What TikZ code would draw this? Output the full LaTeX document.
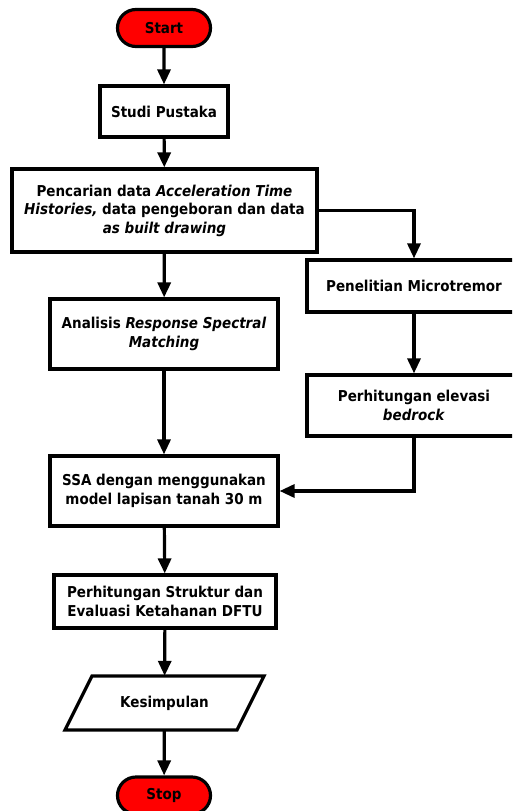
\documentclass[tikz,border=0pt]{standalone}
\usepackage{fontspec}
\setmainfont{DejaVu Sans Condensed}
\usetikzlibrary{arrows.meta,shapes.misc,positioning}
\begin{document}
\begin{tikzpicture}[x=1pt,y=-1pt,
  every node/.style={font=\bfseries\fontsize{15}{18.5}\selectfont, align=center, inner sep=0pt},
  box/.style={draw, line width=3.2pt, rectangle, fill=white},
  term/.style={draw, line width=3.2pt, rounded rectangle, fill=red, minimum width=93pt, minimum height=37pt},
  conn/.style={line width=3.2pt, -{Triangle[length=15pt,width=13pt]}},
]
\useasboundingbox (0,0) rectangle (512,811);
\begin{scope}
\clip (0,0) rectangle (512,811);
\node[term] (start) at (164,28) {Start};
\node[box, minimum width=128pt, minimum height=51pt] (studi) at (164,111.5) {Studi Pustaka};
\node[box, minimum width=305pt, minimum height=83pt] (cari) at (164.5,210.5)
  {Pencarian data \textit{Acceleration Time}\\ \textit{Histories,} data pengeboran dan data\\ \textit{as built drawing}};
\node[box, minimum width=214pt, minimum height=52pt] (micro) at (414,286) {Penelitian Microtremor};
\node[box, minimum width=228pt, minimum height=70pt] (rsm) at (164,334)
  {Analisis \textit{Response Spectral}\\ \textit{Matching}};
\node[box, minimum width=214pt, minimum height=61pt] (elev) at (414,405.5)
  {Perhitungan elevasi\\ \textit{bedrock}};
\node[box, minimum width=228pt, minimum height=70pt] (ssa) at (164,491)
  {SSA dengan menggunakan\\ model lapisan tanah 30 m};
\node[box, minimum width=222pt, minimum height=53pt] (str) at (165,601.5)
  {Perhitungan Struktur dan\\ Evaluasi Ketahanan DFTU};
\node[minimum width=174pt, minimum height=54pt] (kes) at (164.5,703) {};
\draw[line width=3.2pt, line join=miter, fill=white] (92,676) -- (264,676) -- (237,730) -- (65,730) -- cycle;
\node at (kes) {Kesimpulan};
\node[term] (stop) at (164,795.5) {Stop};

\draw[conn] (start) -- (studi);
\draw[conn] (studi) -- (cari);
\draw[conn] (cari.east) -| (micro.north);
\draw[conn] (cari) -- (rsm);
\draw[conn] (micro) -- (elev);
\draw[conn] (rsm) -- (ssa);
\draw[conn] (elev.south) |- (ssa.east);
\draw[conn] (ssa) -- (str);
\draw[conn] (str) -- (kes);
\draw[conn] (kes) -- (stop);
\end{scope}
\end{tikzpicture}
\end{document}
